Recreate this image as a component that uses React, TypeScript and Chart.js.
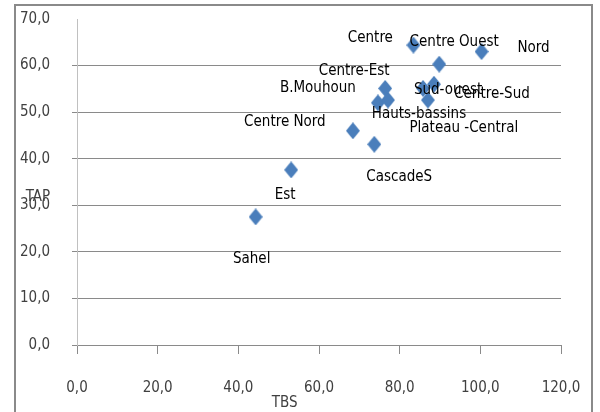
import React, { useEffect, useRef } from "react";
import { Chart, registerables } from "chart.js";

Chart.register(...registerables);

const regions = [
  "Sahel",
  "Est",
  "CascadeS",
  "Centre Nord",
  "Centre",
  "Centre Ouest",
  "Nord",
  "Centre-Est",
  "B.Mouhoun",
  "Hauts-bassins",
  "Sud-ouest",
  "Centre-Sud",
  "Plateau -Central",
];
const tbsValues = [44.3, 53.1, 73.7, 68.4, 83.4, 89.8, 100.3, 76.4, 74.6, 77.1, 85.8, 88.5, 87.0];
const tapValues = [27.5, 37.6, 43.1, 46.0, 64.4, 60.3, 63.0, 55.1, 52.0, 52.6, 55.1, 56.0, 52.6];
const xTickValues = [0, 20, 40, 60, 80, 100, 120];
const yTickValues = [0, 10, 20, 30, 40, 50, 60, 70];
const xTitle = "TBS";
const yTitle = "TAP";

// label placement (pixel offsets of label centre from its point) — style only
const labelOffsets: [number, number][] = [
  [-4, 42],
  [-6, 25],
  [25, 33],
  [-68, -9],
  [-43, -7],
  [15, -22],
  [52, -3],
  [-31, -17],
  [-60, -15],
  [31, 14],
  [25, 2],
  [58, 10],
  [36, 28],
];

const FONT = "'Liberation Sans Narrow', 'DejaVu Sans Condensed', sans-serif";
const fmt = (v: number) => Number(v).toFixed(1).replace(".", ",");

function makeDiamond(): HTMLCanvasElement {
  const c = document.createElement("canvas");
  c.width = 14;
  c.height = 17;
  const ctx = c.getContext("2d")!;
  ctx.fillStyle = "#4a7ebb";
  ctx.beginPath();
  ctx.moveTo(7, 0);
  ctx.lineTo(14, 8.5);
  ctx.lineTo(7, 17);
  ctx.lineTo(0, 8.5);
  ctx.closePath();
  ctx.fill();
  return c;
}

const decorPlugin = {
  id: "decor",
  afterDraw(chart: any) {
    const ctx = chart.ctx;
    const xs = chart.scales.x;
    const ys = chart.scales.y;
    ctx.save();
    // outer frame
    ctx.strokeStyle = "#8a8a8a";
    ctx.lineWidth = 2;
    ctx.strokeRect(15, 5, 577, 450);
    // point labels
    const meta = chart.getDatasetMeta(0);
    ctx.fillStyle = "#000";
    ctx.font = "15px " + FONT;
    ctx.textAlign = "center";
    ctx.textBaseline = "middle";
    meta.data.forEach((pt: any, i: number) => {
      const off = labelOffsets[i] || [0, 0];
      ctx.fillText(regions[i], pt.x + off[0], pt.y + off[1]);
    });
    // axis titles
    ctx.fillStyle = "#404040";
    ctx.font = "15px " + FONT;
    ctx.fillText(yTitle, xs.left - 39, ys.getPixelForValue(31.8));
    ctx.fillText(xTitle, xs.getPixelForValue(51.5), ys.bottom + 58);
    ctx.restore();
  },
};

export default function App() {
  const ref = useRef<HTMLCanvasElement | null>(null);
  useEffect(() => {
    if (!ref.current) return;
    const diamond = makeDiamond();
    const chart = new Chart(ref.current, {
      type: "scatter",
      data: {
        datasets: [
          {
            label: "TAP",
            data: tbsValues.map((x, i) => ({ x, y: tapValues[i] })),
            pointStyle: diamond as any,
            backgroundColor: "#4a7ebb",
            borderColor: "#4a7ebb",
          },
        ],
      },
      options: {
        animation: false,
        responsive: false,
        layout: { padding: { top: 19, right: 39, left: 0, bottom: 0 } },
        plugins: { legend: { display: false }, tooltip: { enabled: false } },
        scales: {
          x: {
            type: "linear",
            min: 0,
            max: 120,
            afterBuildTicks: (s: any) => {
              s.ticks = xTickValues.map((v) => ({ value: v }));
            },
            afterFit: (s: any) => {
              s.height = 67;
              s.paddingLeft = 0;
              s.paddingRight = 0;
            },
            grid: { drawOnChartArea: false, drawTicks: true, tickLength: 9, color: "#8a8a8a" },
            border: { color: "#8a8a8a", width: 1 },
            ticks: {
              padding: 25,
              color: "#404040",
              font: { family: FONT, size: 15 },
              maxRotation: 0,
              autoSkip: false,
              callback: (v: any) => fmt(v),
            },
          },
          y: {
            type: "linear",
            min: 0,
            max: 70,
            afterBuildTicks: (s: any) => {
              s.ticks = yTickValues.map((v) => ({ value: v }));
            },
            afterFit: (s: any) => {
              s.width = 77;
              s.paddingTop = 0;
              s.paddingBottom = 0;
            },
            grid: {
              drawOnChartArea: true,
              drawTicks: true,
              tickLength: 5,
              color: (c: any) => (c.tick && c.tick.value === 70 ? "rgba(0,0,0,0)" : "#8a8a8a"),
            },
            border: { color: "#c0c0c0", width: 1 },
            ticks: {
              padding: 22,
              color: "#404040",
              font: { family: FONT, size: 15 },
              autoSkip: false,
              callback: (v: any) => fmt(v),
            },
          },
        },
      },
      plugins: [decorPlugin],
    });
    return () => chart.destroy();
  }, []);
  return (
    <div style={{ position: "absolute", left: 0, top: 0, width: 600, height: 412, background: "#fff" }}>
      <canvas ref={ref} width={600} height={412} style={{ display: "block" }} />
    </div>
  );
}
